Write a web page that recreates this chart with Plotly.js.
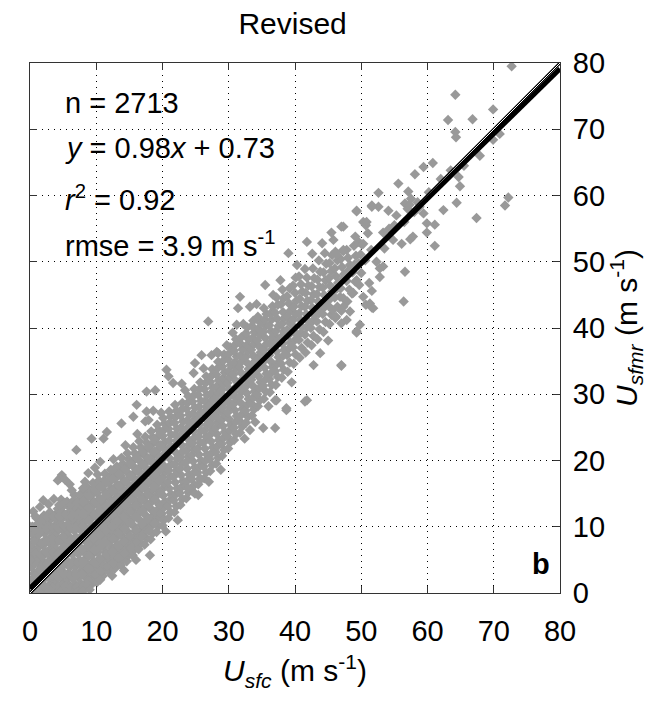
<!DOCTYPE html>
<html>
<head>
<meta charset="utf-8">
<script src="https://cdn.plot.ly/plotly-3.0.1.min.js"></script>
<style>html,body{margin:0;padding:0;background:#fff;}#chart{width:662px;height:702px;}</style>
</head>
<body>
<div id="chart"></div>
<script>
// ---- data (Usfc, Usfmr) in m/s ----
const bandLow = [
[0.2,0.3],[0.5,1.2],[0.3,2.1],[0.6,3.0],[0.2,3.9],[0.4,4.8],[0.1,5.6],[0.5,6.5],[0.3,7.4],[0.6,8.2],[0.2,9.1],[0.4,10.0],
[1.1,0.6],[1.4,1.5],[1.0,2.5],[1.3,3.4],[1.5,4.3],[1.2,5.2],[1.0,6.1],[1.4,7.0],[1.1,7.9],[1.3,8.8],[1.5,9.6],[1.2,10.5],[1.0,11.3],
[2.0,0.2],[2.3,1.0],[1.9,1.9],[2.2,2.8],[2.4,3.7],[2.1,4.6],[1.9,5.5],[2.3,6.3],[2.0,7.2],[2.4,8.1],[2.2,9.0],[1.9,9.9],[2.3,10.8],[2.1,11.7],
[2.9,0.5],[3.2,1.4],[2.8,2.3],[3.1,3.2],[3.3,4.1],[3.0,5.0],[2.8,5.9],[3.2,6.8],[2.9,7.7],[3.3,8.6],[3.0,9.5],[2.8,10.4],[3.2,11.2],[3.0,12.2],
[3.8,0.2],[4.1,1.1],[3.7,2.0],[4.0,2.9],[4.2,3.8],[3.9,4.7],[3.7,5.6],[4.1,6.5],[3.8,7.4],[4.2,8.3],[4.0,9.2],[3.7,10.1],[4.1,11.0],[3.9,11.9],[4.2,12.7],
[4.7,0.6],[5.0,1.5],[4.6,2.4],[4.9,3.3],[5.1,4.2],[4.8,5.1],[4.6,6.0],[5.0,6.9],[4.7,7.8],[5.1,8.7],[4.9,9.6],[4.6,10.5],[5.0,11.4],[4.8,12.3],[5.1,13.2],[4.7,14.1],
[5.6,0.3],[5.9,1.2],[5.5,2.1],[5.8,3.0],[6.0,3.9],[5.7,4.8],[5.5,5.7],[5.9,6.6],[5.6,7.5],[6.0,8.4],[5.8,9.3],[5.5,10.2],[5.9,11.1],[5.7,12.0],[6.0,12.9],[5.6,13.8],
[6.5,0.4],[6.8,1.3],[6.4,2.2],[6.7,3.1],[6.9,4.0],[6.6,4.9],[6.4,5.8],[6.8,6.7],[6.5,7.6],[6.9,8.5],[6.7,9.4],[6.4,10.3],[6.8,11.2],[6.6,12.1],[6.9,13.0],[6.5,13.9],[6.7,14.8],
[7.4,0.5],[7.7,1.4],[7.3,2.3],[7.6,3.2],[7.8,4.1],[7.5,5.0],[7.3,5.9],[7.7,6.8],[7.4,7.7],[7.8,8.6],[7.6,9.5],[7.3,10.4],[7.7,11.3],[7.5,12.2],[7.8,13.1],[7.4,14.0],[7.6,14.9],
[8.3,0.6],[8.6,1.6],[8.2,2.5],[8.5,3.4],[8.7,4.3],[8.4,5.2],[8.2,6.1],[8.6,7.0],[8.3,7.9],[8.7,8.8],[8.5,9.7],[8.2,10.6],[8.6,11.5],[8.4,12.4],[8.7,13.3],[8.3,14.2],[8.5,15.1],[8.6,16.0],
[9.2,1.2],[9.5,2.1],[9.1,3.0],[9.4,3.9],[9.6,4.8],[9.3,5.7],[9.1,6.6],[9.5,7.5],[9.2,8.4],[9.6,9.3],[9.4,10.2],[9.1,11.1],[9.5,12.0],[9.3,12.9],[9.6,13.8],[9.2,14.7],[9.4,15.6],[9.5,16.6],
[10.1,1.6],[10.4,2.5],[10.0,3.4],[10.3,4.3],[10.5,5.2],[10.2,6.1],[10.0,7.0],[10.4,7.9],[10.1,8.8],[10.5,9.7],[10.3,10.6],[10.0,11.5],[10.4,12.4],[10.2,13.3],[10.5,14.2],[10.1,15.1],[10.3,16.0],[10.4,17.0],[10.2,17.9],
[11.0,2.6],[11.3,3.5],[10.9,4.4],[11.2,5.3],[11.4,6.2],[11.1,7.1],[10.9,8.0],[11.3,8.9],[11.0,9.8],[11.4,10.7],[11.2,11.6],[10.9,12.5],[11.3,13.4],[11.1,14.3],[11.4,15.2],[11.0,16.1],[11.2,17.0],[11.3,18.0],
[11.9,3.2],[12.2,4.1],[11.8,5.0],[12.1,5.9],[12.3,6.8],[12.0,7.7],[11.8,8.6],[12.2,9.5],[11.9,10.4],[12.3,11.3],[12.1,12.2],[11.8,13.1],[12.2,14.0],[12.0,14.9],[12.3,15.8],[11.9,16.7],[12.1,17.6],[12.2,18.6],
[12.8,3.7],[13.1,4.6],[12.7,5.5],[13.0,6.4],[13.2,7.3],[12.9,8.2],[12.7,9.1],[13.1,10.0],[12.8,10.9],[13.2,11.8],[13.0,12.7],[12.7,13.6],[13.1,14.5],[12.9,15.4],[13.2,16.3],[12.8,17.2],[13.0,18.1],[13.1,19.1],
[13.7,4.2],[14.0,5.1],[13.6,6.0],[13.9,6.9],[14.1,7.8],[13.8,8.7],[13.6,9.6],[14.0,10.5],[13.7,11.4],[14.1,12.3],[13.9,13.2],[13.6,14.1],[14.0,15.0],[13.8,15.9],[14.1,16.8],[13.7,17.7],[13.9,18.6],[14.0,19.5],[13.8,20.4],
[14.6,4.8],[14.9,5.7],[14.5,6.6],[14.8,7.5],[15.0,8.4],[14.7,9.3],[14.5,10.2],[14.9,11.1],[14.6,12.0],[15.0,12.9],[14.8,13.8],[14.5,14.7],[14.9,15.6],[14.7,16.5],[15.0,17.4],[14.6,18.3],[14.8,19.2],[14.9,20.2],[14.7,21.1],
[15.5,5.7],[15.8,6.6],[15.4,7.5],[15.7,8.4],[15.9,9.3],[15.6,10.2],[15.4,11.1],[15.8,12.0],[15.5,12.9],[15.9,13.8],[15.7,14.7],[15.4,15.6],[15.8,16.5],[15.6,17.4],[15.9,18.3],[15.5,19.2],[15.7,20.1],[15.8,21.1],[15.6,22.0],
[16.4,6.6],[16.7,7.5],[16.3,8.4],[16.6,9.3],[16.8,10.2],[16.5,11.1],[16.3,12.0],[16.7,12.9],[16.4,13.8],[16.8,14.7],[16.6,15.6],[16.3,16.5],[16.7,17.4],[16.5,18.3],[16.8,19.2],[16.4,20.1],[16.6,21.0],[16.7,22.0],[16.5,22.9],
[17.3,7.3],[17.6,8.2],[17.2,9.1],[17.5,10.0],[17.7,10.9],[17.4,11.8],[17.2,12.7],[17.6,13.6],[17.3,14.5],[17.7,15.4],[17.5,16.3],[17.2,17.2],[17.6,18.1],[17.4,19.0],[17.7,19.9],[17.3,20.8],[17.5,21.7],[17.6,22.7],[17.4,23.6],
[18.2,8.1],[18.5,9.0],[18.1,9.9],[18.4,10.8],[18.6,11.7],[18.3,12.6],[18.1,13.5],[18.5,14.4],[18.2,15.3],[18.6,16.2],[18.4,17.1],[18.1,18.0],[18.5,18.9],[18.3,19.8],[18.6,20.7],[18.2,21.6],[18.4,22.5],[18.5,23.5],[18.3,24.4],
[19.1,9.2],[19.4,10.1],[19.0,11.0],[19.3,11.9],[19.5,12.8],[19.2,13.7],[19.0,14.6],[19.4,15.5],[19.1,16.4],[19.5,17.3],[19.3,18.2],[19.0,19.1],[19.4,20.0],[19.2,20.9],[19.5,21.8],[19.1,22.7],[19.3,23.6],[19.4,24.6],[19.2,25.4],
[20.0,10.2],[20.3,11.1],[19.9,12.0],[20.2,12.9],[20.4,13.8],[20.1,14.7],[19.9,15.6],[20.3,16.5],[20.0,17.4],[20.4,18.3],[20.2,19.2],[19.9,20.1],[20.3,21.0],[20.1,21.9],[20.4,22.8],[20.0,23.7],[20.2,24.6],[20.3,25.6],[20.1,26.4]
];
const bandMid = [
[20.9,11.3],[21.2,12.2],[20.8,13.1],[21.1,14.0],[21.3,14.9],[21.0,15.8],[20.8,16.7],[21.2,17.6],[20.9,18.5],[21.3,19.4],[21.1,20.3],[20.8,21.2],[21.2,22.1],[21.0,23.0],[21.3,23.9],[20.9,24.8],[21.1,25.7],[21.2,26.6],[21.0,27.4],
[21.8,12.2],[22.1,13.1],[21.7,14.0],[22.0,14.9],[22.2,15.8],[21.9,16.7],[21.7,17.6],[22.1,18.5],[21.8,19.4],[22.2,20.3],[22.0,21.2],[21.7,22.1],[22.1,23.0],[21.9,23.9],[22.2,24.8],[21.8,25.7],[22.0,26.6],[22.1,27.5],[21.9,28.4],
[22.7,13.3],[23.0,14.2],[22.6,15.1],[22.9,16.0],[23.1,16.9],[22.8,17.8],[22.6,18.7],[23.0,19.6],[22.7,20.5],[23.1,21.4],[22.9,22.3],[22.6,23.2],[23.0,24.1],[22.8,25.0],[23.1,25.9],[22.7,26.8],[22.9,27.7],[23.0,28.7],
[23.6,14.3],[23.9,15.2],[23.5,16.1],[23.8,17.0],[24.0,17.9],[23.7,18.8],[23.5,19.7],[23.9,20.6],[23.6,21.5],[24.0,22.4],[23.8,23.3],[23.5,24.2],[23.9,25.1],[23.7,26.0],[24.0,26.9],[23.6,27.8],[23.8,28.7],[23.9,29.7],
[24.5,15.4],[24.8,16.3],[24.4,17.2],[24.7,18.1],[24.9,19.0],[24.6,19.9],[24.4,20.8],[24.8,21.7],[24.5,22.6],[24.9,23.5],[24.7,24.4],[24.4,25.3],[24.8,26.2],[24.6,27.1],[24.9,28.0],[24.5,28.9],[24.7,29.8],[24.8,30.8],
[25.4,16.4],[25.7,17.3],[25.3,18.2],[25.6,19.1],[25.8,20.0],[25.5,20.9],[25.3,21.8],[25.7,22.7],[25.4,23.6],[25.8,24.5],[25.6,25.4],[25.3,26.3],[25.7,27.2],[25.5,28.1],[25.8,29.0],[25.4,29.9],[25.6,30.8],[25.7,31.8],
[26.3,17.3],[26.6,18.2],[26.2,19.1],[26.5,20.0],[26.7,20.9],[26.4,21.8],[26.2,22.7],[26.6,23.6],[26.3,24.5],[26.7,25.4],[26.5,26.3],[26.2,27.2],[26.6,28.1],[26.4,29.0],[26.7,29.9],[26.3,30.8],[26.5,31.7],[26.6,32.7],
[27.2,18.4],[27.5,19.3],[27.1,20.2],[27.4,21.1],[27.6,22.0],[27.3,22.9],[27.1,23.8],[27.5,24.7],[27.2,25.6],[27.6,26.5],[27.4,27.4],[27.1,28.3],[27.5,29.2],[27.3,30.1],[27.6,31.0],[27.2,31.9],[27.4,32.8],[27.5,33.8],
[28.1,19.5],[28.4,20.4],[28.0,21.3],[28.3,22.2],[28.5,23.1],[28.2,24.0],[28.0,24.9],[28.4,25.8],[28.1,26.7],[28.5,27.6],[28.3,28.5],[28.0,29.4],[28.4,30.3],[28.2,31.2],[28.5,32.1],[28.1,33.0],[28.3,33.9],[28.4,34.9],
[29.0,20.7],[29.3,21.6],[28.9,22.5],[29.2,23.4],[29.4,24.3],[29.1,25.2],[28.9,26.1],[29.3,27.0],[29.0,27.9],[29.4,28.8],[29.2,29.7],[28.9,30.6],[29.3,31.5],[29.1,32.4],[29.4,33.3],[29.0,34.2],[29.2,35.1],[29.3,36.0],
[29.9,21.8],[30.2,22.7],[29.8,23.6],[30.1,24.5],[30.3,25.4],[30.0,26.3],[29.8,27.2],[30.2,28.1],[29.9,29.0],[30.3,29.9],[30.1,30.8],[29.8,31.7],[30.2,32.6],[30.0,33.5],[30.3,34.4],[29.9,35.3],[30.1,36.2],[30.2,37.1],
[30.8,23.1],[31.1,24.0],[30.7,24.9],[31.0,25.8],[31.2,26.7],[30.9,27.6],[30.7,28.5],[31.1,29.4],[30.8,30.3],[31.2,31.2],[31.0,32.1],[30.7,33.0],[31.1,33.9],[30.9,34.8],[31.2,35.7],[30.8,36.6],[31.0,37.5],[31.1,38.3],
[31.7,24.2],[32.0,25.1],[31.6,26.0],[31.9,26.9],[32.1,27.8],[31.8,28.7],[31.6,29.6],[32.0,30.5],[31.7,31.4],[32.1,32.3],[31.9,33.2],[31.6,34.1],[32.0,35.0],[31.8,35.9],[32.1,36.8],[31.7,37.7],[31.9,38.6],
[32.6,25.7],[32.9,26.6],[32.5,27.5],[32.8,28.4],[33.0,29.3],[32.7,30.2],[32.5,31.1],[32.9,32.0],[32.6,32.9],[33.0,33.8],[32.8,34.7],[32.5,35.6],[32.9,36.5],[32.7,37.4],[33.0,38.3],[32.6,39.2],[32.8,40.1],
[33.5,26.8],[33.8,27.7],[33.4,28.6],[33.7,29.5],[33.9,30.4],[33.6,31.3],[33.4,32.2],[33.8,33.1],[33.5,34.0],[33.9,34.9],[33.7,35.8],[33.4,36.7],[33.8,37.6],[33.6,38.5],[33.9,39.4],[33.5,40.3],[33.7,41.1],
[34.4,28.2],[34.7,29.1],[34.3,30.0],[34.6,30.9],[34.8,31.8],[34.5,32.7],[34.3,33.6],[34.7,34.5],[34.4,35.4],[34.8,36.3],[34.6,37.2],[34.3,38.1],[34.7,39.0],[34.5,39.9],[34.8,40.8],[34.4,41.7]
];
const bandHigh = [
[35.3,29.3],[35.6,30.4],[35.2,31.3],[35.5,32.2],[35.7,33.1],[35.4,34.0],[35.2,34.9],[35.6,35.8],[35.3,36.7],[35.7,37.6],[35.5,38.5],[35.2,39.4],[35.6,40.3],[35.4,41.2],[35.7,42.1],[35.3,43.0],
[36.2,30.3],[36.5,31.4],[36.1,32.3],[36.4,33.2],[36.6,34.1],[36.3,35.0],[36.1,35.9],[36.5,36.8],[36.2,37.7],[36.6,38.6],[36.4,39.5],[36.1,40.4],[36.5,41.3],[36.3,42.2],[36.6,43.3],
[37.1,31.4],[37.4,32.6],[37.0,33.5],[37.3,34.6],[37.5,35.6],[37.2,36.5],[37.0,37.6],[37.4,38.4],[37.1,39.5],[37.5,40.3],[37.3,41.4],[37.0,42.3],[37.4,43.5],[37.2,44.6],
[38.0,32.5],[38.3,33.7],[37.9,34.6],[38.2,35.8],[38.4,36.7],[38.1,37.6],[37.9,38.6],[38.3,39.5],[38.0,40.6],[38.4,41.5],[38.2,42.4],[37.9,43.6],[38.3,44.5],[38.1,45.8],
[38.9,33.4],[39.2,34.8],[38.8,35.9],[39.1,36.9],[39.3,37.8],[39.0,38.9],[38.8,39.7],[39.2,40.8],[38.9,41.7],[39.3,42.6],[39.1,43.7],[38.8,44.8],[39.2,46.0],
[39.8,34.6],[40.1,36.0],[39.7,37.1],[40.0,38.2],[40.2,39.1],[39.9,40.1],[39.7,41.2],[40.1,42.1],[39.8,43.2],[40.2,44.1],[40.0,45.3],[39.7,46.4],[40.1,47.6],
[40.7,35.5],[41.0,37.0],[40.6,38.2],[40.9,39.3],[41.1,40.2],[40.8,41.3],[40.6,42.2],[41.0,43.3],[40.7,44.4],[41.1,45.5],[40.9,46.6],[40.6,47.8],
[41.6,36.3],[41.9,37.8],[41.5,39.0],[41.8,40.1],[42.0,41.0],[41.7,42.1],[41.5,43.2],[41.9,44.1],[41.6,45.3],[42.0,46.4],[41.8,47.6],[41.5,48.9],
[42.5,37.4],[42.8,38.8],[42.4,40.0],[42.7,41.1],[42.9,42.0],[42.6,43.1],[42.4,44.2],[42.8,45.1],[42.5,46.3],[42.9,47.5],[42.7,49.0],
[43.4,38.3],[43.7,39.8],[43.3,41.0],[43.6,42.2],[43.8,43.0],[43.5,44.0],[43.3,45.1],[43.7,46.2],[43.4,47.3],[43.8,48.5],[43.6,50.2],
[44.3,39.4],[44.6,40.9],[44.2,42.1],[44.5,43.2],[44.7,44.1],[44.4,45.0],[44.2,46.1],[44.6,47.2],[44.3,48.4],[44.7,49.7],[44.5,51.3],
[45.2,40.6],[45.5,42.0],[45.1,43.3],[45.4,44.5],[45.6,45.5],[45.3,46.4],[45.1,47.5],[45.5,48.6],[45.2,49.8],[45.6,51.0],
[46.1,41.5],[46.4,43.2],[46.0,44.6],[46.3,45.9],[46.5,46.8],[46.2,47.8],[46.0,49.0],[46.4,50.2],[46.1,51.5],
[47.0,42.6],[47.3,44.5],[46.9,46.0],[47.2,47.3],[47.4,48.1],[47.1,49.2],[46.9,50.4],[47.3,51.6],
[47.9,44.0],[48.2,45.8],[47.8,47.1],[48.1,48.6],[48.3,49.5],[48.0,50.6],[47.8,51.8],
[48.8,45.3],[49.1,47.0],[48.7,48.4],[49.0,49.6],[49.2,50.9],[48.9,52.4],
[49.7,46.5],[50.0,48.3],[49.6,49.8],[49.9,51.1],[50.1,52.6]
];
const bandFill = [
[0.7,0.8],[0.8,2.6],[0.7,4.4],[0.8,6.0],[0.7,7.8],[0.8,9.5],[1.7,0.4],[1.6,2.0],[1.7,3.9],[1.6,5.7],[1.7,7.5],[1.6,9.2],[1.7,11.0],
[2.6,0.9],[2.5,2.6],[2.6,4.4],[2.5,6.1],[2.6,7.9],[2.5,9.7],[2.6,11.5],[3.5,0.8],[3.4,2.6],[3.5,4.5],[3.4,6.2],[3.5,8.0],[3.4,9.8],[3.5,11.6],
[4.4,0.4],[4.3,2.3],[4.4,4.2],[4.3,6.0],[4.4,7.9],[4.3,9.7],[4.4,11.5],[4.4,13.3],[5.3,0.9],[5.2,2.7],[5.3,4.6],[5.2,6.4],[5.3,8.2],[5.2,10.0],[5.3,11.8],[5.3,13.6],
[6.2,0.8],[6.1,2.6],[6.2,4.5],[6.1,6.3],[6.2,8.1],[6.1,9.8],[6.2,11.6],[6.2,13.4],[7.1,0.9],[7.0,2.8],[7.1,4.6],[7.0,6.4],[7.1,8.2],[7.0,10.0],[7.1,11.8],[7.1,13.6],
[8.0,1.0],[7.9,2.9],[8.0,4.7],[7.9,6.5],[8.0,8.3],[7.9,10.1],[8.0,11.9],[8.0,13.7],[8.9,1.9],[8.8,3.7],[8.9,5.6],[8.8,7.4],[8.9,9.2],[8.8,11.0],[8.9,12.8],[8.9,14.6],
[9.8,2.8],[9.7,4.6],[9.8,6.5],[9.7,8.3],[9.8,10.1],[9.7,11.9],[9.8,13.7],[9.8,15.5],[10.7,3.3],[10.6,5.1],[10.7,7.0],[10.6,8.8],[10.7,10.6],[10.6,12.4],[10.7,14.2],[10.7,16.0],
[11.6,4.0],[11.5,5.8],[11.6,7.7],[11.5,9.5],[11.6,11.3],[11.5,13.1],[11.6,14.9],[11.6,16.7],[12.5,4.5],[12.4,6.3],[12.5,8.2],[12.4,10.0],[12.5,11.8],[12.4,13.6],[12.5,15.4],[12.5,17.2],
[13.4,5.3],[13.3,7.1],[13.4,9.0],[13.3,10.8],[13.4,12.6],[13.3,14.4],[13.4,16.2],[13.4,18.0],[14.3,6.0],[14.2,7.8],[14.3,9.7],[14.2,11.5],[14.3,13.3],[14.2,15.1],[14.3,16.9],[14.3,18.7],
[15.2,6.8],[15.1,8.6],[15.2,10.5],[15.1,12.3],[15.2,14.1],[15.1,15.9],[15.2,17.7],[15.2,19.5],[16.1,7.7],[16.0,9.5],[16.1,11.4],[16.0,13.2],[16.1,15.0],[16.0,16.8],[16.1,18.6],[16.1,20.4],
[17.0,8.6],[16.9,10.4],[17.0,12.3],[16.9,14.1],[17.0,15.9],[16.9,17.7],[17.0,19.5],[17.0,21.3],[17.9,9.4],[17.8,11.2],[17.9,13.1],[17.8,14.9],[17.9,16.7],[17.8,18.5],[17.9,20.3],[17.9,22.1],
[18.8,10.5],[18.7,12.3],[18.8,14.2],[18.7,16.0],[18.8,17.8],[18.7,19.6],[18.8,21.4],[18.8,23.2],[19.7,11.4],[19.6,13.2],[19.7,15.1],[19.6,16.9],[19.7,18.7],[19.6,20.5],[19.7,22.3],[19.7,24.1]
];
const sparseHigh = [
[72.7,79.5],[64.2,75.2],[69.9,73.0],[63.1,71.4],[66.8,71.5],[64.2,69.6],[64.3,68.8],[69.9,68.4],[70.9,69.3],[67.9,66.0],
[60.8,64.9],[59.4,64.3],[58.1,63.2],[64.7,62.8],[64.9,61.4],[55.6,61.8],[57.1,60.6],[52.6,60.4],[72.2,59.7],[71.7,58.5],
[64.4,58.9],[62.4,57.8],[59.4,57.3],[67.4,56.6],[51.6,58.5],[52.6,58.3],[56.6,58.8],[57.0,58.0],[57.3,58.6],[54.1,57.7],
[49.3,57.7],[50.3,56.0],[50.7,55.5],[51.0,54.3],[53.3,54.4],[54.8,53.3],[56.1,52.7],[57.4,53.4],[57.8,53.8],[59.9,54.4],
[59.9,55.8],[61.1,55.6],[61.1,52.4],[47.3,55.3],[49.1,53.8],[49.6,53.0],[50.3,52.7],[52.3,50.0],[52.8,49.0],[53.3,49.3],
[52.8,47.7],[56.6,48.5],[51.6,45.6],[50.7,43.5],[51.6,43.1],[56.4,44.0],[49.3,39.3],[47.0,34.3],
[53.5,52.0],[55.0,55.5],[56.5,56.0],[58.0,57.5],[58.5,59.0],[60.2,60.5],[62.0,62.5],[63.5,63.8],[65.5,64.5],[54.2,55.0],
[55.3,57.0],[58.8,58.3],[57.5,59.5],[45.8,53.3],[47.3,51.8],[46.3,51.1],[48.3,48.8],[49.3,47.2],[46.8,44.7],[47.3,43.2],
[48.3,42.5],[47.8,41.2],[50.3,44.7],[51.2,46.8],[50.6,50.2],[51.5,51.8],[39.0,51.3],[41.8,53.0],[45.5,54.4],[47.0,55.3],
[49.3,57.6],[51.6,58.3],[50.8,56.0],[36.7,45.0],[35.5,46.5],[31.7,44.7],[31.4,43.0],[33.2,43.2],[26.9,41.0],[28.4,36.2],
[31.2,40.5],[34.2,43.6],[37.8,47.2],[40.3,49.5],[42.6,51.2],[44.1,52.8]
];
const sparseLow = [
[42.8,34.4],[47.0,34.4],[41.8,29.1],[38.7,27.9],[37.2,29.1],[51.3,43.7],[51.8,43.0],[48.6,45.2],[47.0,40.7],[46.2,41.7],
[45.7,42.7],[49.3,39.5],[49.8,40.5],[18.1,5.7],[8.8,1.2],[10.6,2.0],[19.6,12.0],[23.9,15.8],[24.9,15.0],[25.4,14.8],
[25.7,17.1],[30.7,24.9],[33.2,24.6],[35.2,24.9],[37.0,24.9],[38.7,27.6],[41.5,28.9],[37.0,29.1],[1.5,0.1],[3.0,0.3],
[4.5,0.2],[6.0,0.1],[7.2,0.2],[8.0,0.3],[9.0,0.5],[12.4,2.6],[14.2,3.4],[16.0,5.0],[20.5,9.3],[22.3,11.0],
[27.0,16.8],[28.8,18.6],[32.4,23.3],[34.0,25.8],[36.0,28.2],[39.5,31.8],[43.8,36.2],[45.0,38.1]
];
const upperLeft = [
[9.3,23.3],[11.1,23.3],[11.6,24.3],[13.8,25.6],[15.6,26.6],[17.6,30.4],[16.1,28.4],[7.0,21.6],[4.8,17.8],[4.5,17.3],
[4.2,17.0],[5.3,17.1],[2.0,14.0],[1.5,13.0],[0.5,12.3],[6.3,15.5],[8.0,15.8],[8.3,16.8],[8.8,18.1],[10.6,19.8],
[17.4,25.9],[17.9,26.1],[17.6,27.4],[18.6,27.5],[18.9,30.6],[20.6,33.7],[20.9,32.7],[24.7,33.2],[24.9,34.7],[25.9,35.9],
[27.4,35.9],[28.2,36.4],[29.7,37.4],[21.6,31.7],[22.9,31.6],[0.1,5.0],[0.1,10.0],[2.8,13.4],[3.6,14.2],[6.0,16.4],
[9.8,18.9],[12.6,20.2],[14.4,22.3],[16.2,24.0],[19.8,27.2],[23.4,30.6],[26.2,33.9],[30.6,39.3],[32.2,40.6],[0.8,11.6]
];
const fitSlope = 0.98;
const fitIntercept = 0.73;
const axisMax = 80;
const tickVals = [0, 10, 20, 30, 40, 50, 60, 70, 80];
const statsText = ["n = 2713", "<i>y</i> = 0.98<i>x</i> + 0.73", "<i>r</i><sup>2</sup> = 0.92", "rmse = 3.9 m s<sup>-1</sup>"];

// ---- build ----
const allPts = bandLow.concat(bandFill, bandMid, bandHigh, sparseHigh, sparseLow, upperLeft);
const xs = allPts.map(p => p[0]);
const ys = allPts.map(p => p[1]);
const lineX = [0, axisMax];
const fitY = lineX.map(v => fitSlope * v + fitIntercept);

const FONT = "Liberation Sans, Arial, Helvetica, sans-serif";
const traces = [
  {type: 'scatter', mode: 'markers', x: xs, y: ys,
   marker: {symbol: 'diamond', size: 8, color: '#999999', line: {width: 0}}, hoverinfo: 'skip'},
  {type: 'scatter', mode: 'lines', x: lineX, y: lineX, line: {color: '#000', width: 3}, hoverinfo: 'skip'},
  {type: 'scatter', mode: 'lines', x: lineX, y: lineX, line: {color: '#fff', width: 1}, hoverinfo: 'skip'},
  {type: 'scatter', mode: 'lines', x: lineX, y: fitY, line: {color: '#000', width: 5}, hoverinfo: 'skip'}
];

const axisCommon = {
  range: [0, axisMax], tickvals: tickVals, ticktext: tickVals.map(String),
  ticks: 'inside', ticklen: 7, tickwidth: 1, tickcolor: '#333',
  showline: true, linecolor: '#333', linewidth: 1, mirror: 'allticks',
  showgrid: true, gridcolor: '#000', gridwidth: 1, griddash: '1px,5px',
  zeroline: false, tickfont: {family: FONT, size: 29, color: '#000'},
  fixedrange: true
};

const annY = [0.924, 0.840, 0.746, 0.659];
const annotations = statsText.map((t, i) => ({
  text: t, xref: 'paper', yref: 'paper', x: 0.062, y: annY[i],
  xanchor: 'left', yanchor: 'middle', showarrow: false,
  font: {family: FONT, size: 29, color: '#000'}
}));
annotations.push({text: '<b>b</b>', xref: 'paper', yref: 'paper', x: 0.985, y: 0.055,
  xanchor: 'right', yanchor: 'middle', showarrow: false,
  font: {family: FONT, size: 29, color: '#000'}});

const layout = {
  width: 662, height: 702,
  margin: {l: 30, r: 102, t: 63, b: 109, pad: 0},
  paper_bgcolor: '#fff', plot_bgcolor: '#fff',
  showlegend: false,
  title: {text: 'Revised', font: {family: FONT, size: 30, color: '#000'},
          x: 0.442, xanchor: 'center', y: 0.966, yanchor: 'middle', yref: 'container'},
  xaxis: Object.assign({}, axisCommon, {
    ticklabelstandoff: 12,
    title: {text: '<i>U</i><sub><i>sfc</i></sub> (m s<sup>-1</sup>)', font: {family: FONT, size: 30, color: '#000'}, standoff: 14}
  }),
  yaxis: Object.assign({}, axisCommon, {
    side: 'right', ticklabelstandoff: 6,
    title: {text: '<i>U</i><sub><i>sfmr</i></sub> (m s<sup>-1</sup>)', font: {family: FONT, size: 30, color: '#000'}, standoff: 10}
  }),
  annotations: annotations
};

Plotly.newPlot('chart', traces, layout, {displayModeBar: false, staticPlot: true});
</script>
</body>
</html>
